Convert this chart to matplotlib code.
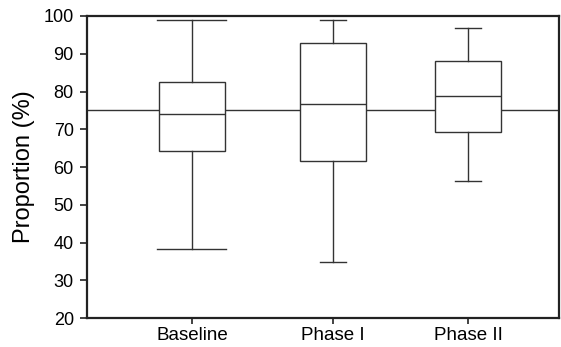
import matplotlib
matplotlib.use("Agg")
import matplotlib.pyplot as plt

plt.rcParams['font.family'] = ['Liberation Sans', 'DejaVu Sans']

categories = ["Baseline", "Phase I", "Phase II"]
whislo = [38.3, 34.9, 56.4]
q1 = [64.2, 61.6, 69.4]
med = [74.0, 76.7, 78.8]
q3 = [82.6, 92.8, 88.1]
whishi = [99.0, 98.8, 96.8]
reference = 75
yticks = [20, 30, 40, 50, 60, 70, 80, 90, 100]

fig = plt.figure(figsize=(5.61, 3.47), dpi=100)
ax = fig.add_axes([0.155, 0.083, 0.842, 0.871])

ax.axhline(reference, color='#333333', lw=1.0, zorder=1)

stats = []
for i, c in enumerate(categories):
    stats.append(dict(label=c, whislo=whislo[i], q1=q1[i], med=med[i],
                      q3=q3[i], whishi=whishi[i], fliers=[]))
pos = [1, 2.02, 3.0]
lc = '#333333'
ax.bxp(stats, positions=pos, widths=0.48, capwidths=[0.5, 0.19, 0.19],
       patch_artist=True,
       boxprops=dict(facecolor='white', edgecolor=lc, lw=1.0),
       medianprops=dict(color=lc, lw=1.0),
       whiskerprops=dict(color=lc, lw=1.0),
       capprops=dict(color=lc, lw=1.0), zorder=2)

ax.set_xlim(0.24, 3.66)
ax.set_ylim(20, 100)
ax.set_yticks(yticks)
ax.set_xticks(pos)
ax.set_xticklabels(categories)
ax.tick_params(axis='both', direction='out', length=5, width=1.2, color='#222222')
ax.tick_params(axis='y', labelsize=13, pad=4.5)
ax.tick_params(axis='x', labelsize=13.5, pad=2.5, length=4)
for s in ax.spines.values():
    s.set_linewidth(1.6)
    s.set_color('#222222')
ax.set_ylabel("Proportion (%)", fontsize=17, labelpad=6)

fig.savefig("out.png", dpi=100)
